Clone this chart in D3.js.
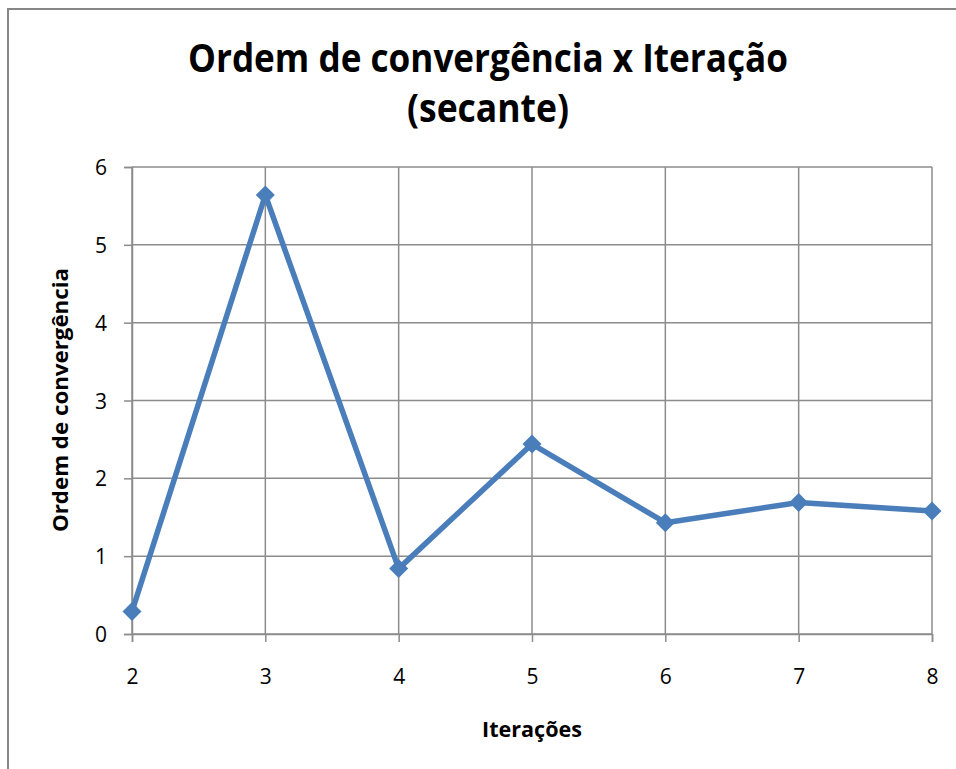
<!DOCTYPE html>
<html>
<head>
<meta charset="utf-8">
<script src="https://cdn.jsdelivr.net/npm/d3@7"></script>
<style>
  html, body { margin: 0; padding: 0; background: #fff; }
  svg { display: block; }
  text { font-family: "Open Sans", "Noto Sans", sans-serif; fill: #000; }
</style>
</head>
<body>
<svg id="chart" width="956" height="769"></svg>
<script>
const iterations = [2, 3, 4, 5, 6, 7, 8];
const ordem = [0.29, 5.64, 0.84, 2.44, 1.43, 1.69, 1.58];
const yTicks = [0, 1, 2, 3, 4, 5, 6];
const titleLines = ["Ordem de convergência x Iteração", "(secante)"];
const xTitle = "Iterações";
const yTitle = "Ordem de convergência";

const svg = d3.select("#chart");
const m = { left: 132, right: 932, top: 167, bottom: 634 };

// outer frame
svg.append("rect").attr("x", 8).attr("y", 9).attr("width", 1200).attr("height", 1200)
  .attr("fill", "#fff").attr("stroke", "#868686").attr("stroke-width", 2);

const x = d3.scaleLinear().domain([2, 8]).range([m.left, m.right]);
const y = d3.scaleLinear().domain([0, 6]).range([m.bottom, m.top]);

const gridColor = "#8c8c8c";

// gridlines
svg.append("g").selectAll("line").data(yTicks).join("line")
  .attr("x1", m.left).attr("x2", m.right)
  .attr("y1", d => y(d)).attr("y2", d => y(d))
  .attr("stroke", gridColor).attr("stroke-width", 1.5);
svg.append("g").selectAll("line").data(iterations).join("line")
  .attr("x1", d => x(d)).attr("x2", d => x(d))
  .attr("y1", m.top).attr("y2", m.bottom)
  .attr("stroke", gridColor).attr("stroke-width", 1.5);

// axes
const xAxis = svg.append("g").attr("transform", `translate(0,${m.bottom})`)
  .call(d3.axisBottom(x).tickValues(iterations).tickFormat(d3.format("d")).tickSize(8).tickPadding(42));
const yAxis = svg.append("g").attr("transform", `translate(${m.left},0)`)
  .call(d3.axisLeft(y).tickValues(yTicks).tickFormat(d3.format("d")).tickSize(8).tickPadding(17));
[xAxis, yAxis].forEach(a => {
  a.attr("font-size", null).attr("font-family", null);
  a.select(".domain").attr("stroke", gridColor).attr("stroke-width", 1.5);
  a.selectAll(".tick line").attr("stroke", gridColor).attr("stroke-width", 1.5);
  a.selectAll(".tick text").style("font-size", "21px").style("fill", "#000");
});
xAxis.selectAll(".tick text").attr("dy", "0");
yAxis.selectAll(".tick text").attr("dy", "0.36em");

// line
const data = iterations.map((d, i) => ({ x: d, y: ordem[i] }));
svg.append("path").datum(data)
  .attr("fill", "none").attr("stroke", "#4a7ebb").attr("stroke-width", 5.5)
  .attr("stroke-linejoin", "round")
  .attr("d", d3.line().x(d => x(d.x)).y(d => y(d.y)));

// diamond markers
svg.append("g").selectAll("path").data(data).join("path")
  .attr("transform", d => `translate(${x(d.x)},${y(d.y)})`)
  .attr("d", d3.symbol().type(d3.symbolDiamond2).size(230))
  .attr("fill", "#4a7ebb");

// title
svg.append("text").attr("x", 488).attr("y", 72).attr("text-anchor", "middle")
  .style("font-size", "39px").style("font-weight", "bold")
  .attr("textLength", 600).attr("lengthAdjust", "spacingAndGlyphs")
  .text(titleLines[0]);
svg.append("text").attr("x", 488).attr("y", 122).attr("text-anchor", "middle")
  .style("font-size", "39px").style("font-weight", "bold")
  .attr("textLength", 162).attr("lengthAdjust", "spacingAndGlyphs")
  .text(titleLines[1]);

// axis titles
svg.append("text").attr("x", 532).attr("y", 737).attr("text-anchor", "middle")
  .style("font-size", "21px").style("font-weight", "bold")
  .attr("textLength", 100).attr("lengthAdjust", "spacingAndGlyphs")
  .text(xTitle);
svg.append("text").attr("transform", "translate(68,400) rotate(-90)").attr("text-anchor", "middle")
  .style("font-size", "21px").style("font-weight", "bold")
  .attr("textLength", 264).attr("lengthAdjust", "spacingAndGlyphs")
  .text(yTitle);
</script>
</body>
</html>
